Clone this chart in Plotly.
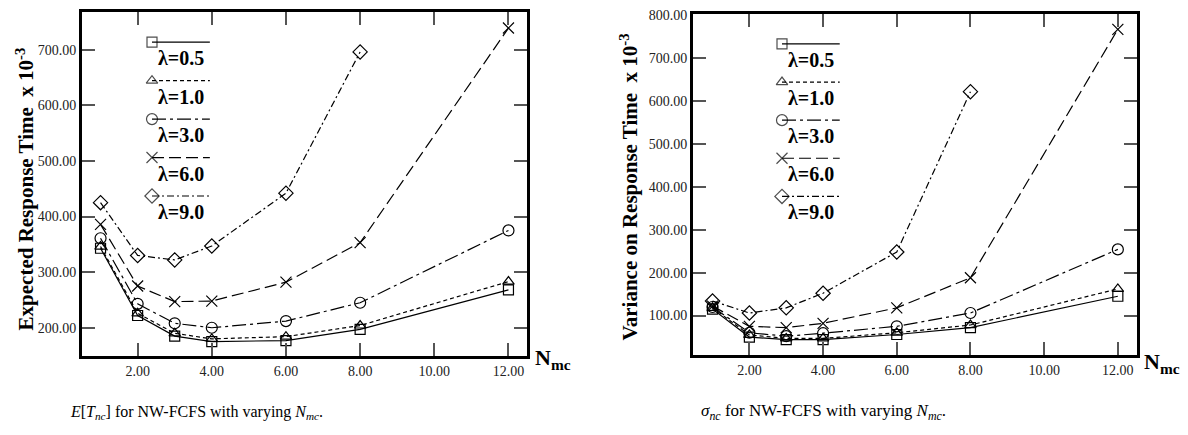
import plotly.graph_objects as go

# Number of machine clusters
n_mc = [1, 2, 3, 4, 6, 8, 12]
lambda_labels = ["0.5", "1.0", "3.0", "6.0", "9.0"]

# Expected response time (x 10^-3) per arrival rate
resp_l05 = [343, 222, 185, 175, 177, 197, 268]
resp_l10 = [346, 226, 190, 180, 184, 204, 283]
resp_l30 = [361, 243, 208, 200, 212, 245, 375]
resp_l60 = [386, 275, 247, 248, 282, 353, 739]
resp_l90 = [425, 330, 322, 347, 442, 696]

# Variance on response time (x 10^-3) per arrival rate
var_l05 = [115, 50, 44, 44, 56, 72, 145]
var_l10 = [118, 55, 47, 47, 60, 78, 162]
var_l30 = [120, 60, 52, 59, 75, 106, 254]
var_l60 = [122, 75, 72, 82, 118, 188, 766]
var_l90 = [134, 106, 118, 152, 248, 621]

left_ticks_y = [200, 300, 400, 500, 600, 700]
right_ticks_y = [100, 200, 300, 400, 500, 600, 700, 800]
ticks_x = [2, 4, 6, 8, 10, 12]

resp_series = [resp_l05, resp_l10, resp_l30, resp_l60, resp_l90]
var_series = [var_l05, var_l10, var_l30, var_l60, var_l90]

symbols = ["square-open", "triangle-up-open", "circle-open", "x-thin-open", "diamond-open"]
dashes = ["solid", "4px,3px", "14px,4px,3px,4px", "12px,5px", "7px,3px,2px,3px"]
sizes = [10, 10, 11, 11, 11]

SERIF = "Liberation Serif, Times New Roman, serif"
W, H = 1188, 435

fig = go.Figure()


def add_panel(series, xa, ya, lxa, lya):
    for vals, sym, dash, sz in zip(series, symbols, dashes, sizes):
        fig.add_trace(go.Scatter(
            x=n_mc[:len(vals)], y=vals, xaxis=xa, yaxis=ya,
            mode="lines+markers",
            line=dict(color="black", width=1.2, dash=dash),
            marker=dict(symbol=sym, size=sz, color="black",
                        line=dict(color="black", width=1.2)),
            showlegend=False, hoverinfo="skip"))
    # in-plot key: marker at the left end of a short styled line
    for i, (sym, dash, sz) in enumerate(zip(symbols, dashes, sizes)):
        yk = 0.912 - i * 0.1117
        fig.add_trace(go.Scatter(
            x=[0.0, 0.13], y=[yk, yk], xaxis=lxa, yaxis=lya,
            mode="lines+markers",
            line=dict(color="black", width=1.2, dash=dash),
            marker=dict(symbol=sym, size=[sz, 0], color="black",
                        line=dict(color="black", width=1.2)),
            showlegend=False, hoverinfo="skip"))


add_panel(resp_series, "x", "y", "x3", "y3")
add_panel(var_series, "x2", "y2", "x4", "y4")

left_dom = [82 / W, 527 / W]
left_ydom = [1 - 355 / H, 1 - 6 / H]
right_dom = [693 / W, 1137 / W]
right_ydom = [1 - 354 / H, 1 - 8 / H]

axis_common = dict(
    showline=True, linewidth=3, linecolor="black", mirror="ticks",
    ticks="inside", ticklen=13, tickwidth=1.5, tickcolor="#555",
    showgrid=False, zeroline=False, tickformat=".2f",
    tickfont=dict(family=SERIF, size=14, color="#222"),
)

fig.update_layout(
    width=W, height=H,
    margin=dict(l=0, r=0, t=0, b=0),
    paper_bgcolor="white", plot_bgcolor="white",
    xaxis=dict(domain=left_dom, range=[0.5, 12.5], tickvals=ticks_x, anchor="y", **axis_common),
    yaxis=dict(domain=left_ydom, range=[149, 768], tickvals=left_ticks_y, anchor="x", **axis_common),
    xaxis2=dict(domain=right_dom, range=[0.47, 12.52], tickvals=ticks_x, anchor="y2", **axis_common),
    yaxis2=dict(domain=right_ydom, range=[8, 802], tickvals=right_ticks_y, anchor="x2", **axis_common),
)

# key placement axes: unit square laid over each panel
key_left_x0 = (152 - 82) / 445
key_right_x0 = (782 - 693) / 444
for xa, ya, base_x, base_y, dom, ydom, x0 in [
        ("xaxis3", "yaxis3", "x", "y", left_dom, left_ydom, key_left_x0),
        ("xaxis4", "yaxis4", "x2", "y2", right_dom, right_ydom, key_right_x0)]:
    fig.layout[xa] = dict(domain=dom, range=[-x0, 1 - x0], visible=False,
                          overlaying=base_x, anchor=ya.replace("axis", ""), fixedrange=True)
    fig.layout[ya] = dict(domain=ydom, range=[0, 1], visible=False,
                          overlaying=base_y, anchor=xa.replace("axis", ""), fixedrange=True)

annotations = []
for xref, yref in [("x3", "y3"), ("x4", "y4")]:
    for i, lab in enumerate(lambda_labels):
        yk = 0.912 - i * 0.1117
        annotations.append(dict(
            x=0.01, y=yk - 0.009, xref=xref, yref=yref, xanchor="left", yanchor="top",
            text="<b>λ=" + lab + "</b>", showarrow=False,
            font=dict(family=SERIF, size=20, color="black")))

# axis titles
annotations += [
    dict(x=25 / W, y=1 - 186 / H, xref="paper", yref="paper", textangle=-90,
         xanchor="center", yanchor="middle",
         text="<b>Expected Response Time  x 10<sup>-3</sup></b>", showarrow=False,
         font=dict(family=SERIF, size=21, color="black")),
    dict(x=629 / W, y=1 - 183 / H, xref="paper", yref="paper", textangle=-90,
         xanchor="center", yanchor="middle",
         text="<b>Variance on Response Time  x 10<sup>-3</sup></b>", showarrow=False,
         font=dict(family=SERIF, size=21, color="black")),
    dict(x=533 / W, y=1 - 358 / H, xref="paper", yref="paper", xanchor="left", yanchor="middle",
         text="<b>N<sub>mc</sub></b>", showarrow=False,
         font=dict(family=SERIF, size=22, color="black")),
    dict(x=1142 / W, y=1 - 362 / H, xref="paper", yref="paper", xanchor="left", yanchor="middle",
         text="<b>N<sub>mc</sub></b>", showarrow=False,
         font=dict(family=SERIF, size=22, color="black")),
    dict(x=196 / W, y=1 - 412 / H, xref="paper", yref="paper", xanchor="center", yanchor="middle",
         text="<i>E</i>[<i>T<sub>nc</sub></i>] for NW-FCFS with varying <i>N<sub>mc</sub></i>.",
         showarrow=False, font=dict(family=SERIF, size=16, color="black")),
    dict(x=823 / W, y=1 - 412 / H, xref="paper", yref="paper", xanchor="center", yanchor="middle",
         text="<i>σ<sub>nc</sub></i> for NW-FCFS with varying <i>N<sub>mc</sub></i>.",
         showarrow=False, font=dict(family=SERIF, size=17, color="black")),
]
fig.update_layout(annotations=annotations)

fig.write_html("out.html")
